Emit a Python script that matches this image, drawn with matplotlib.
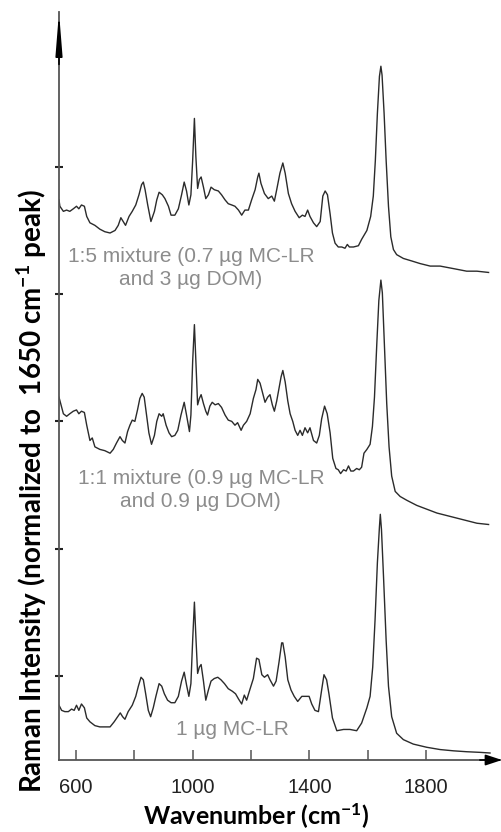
"""
Stacked Raman spectra of MC-LR and MC-LR/DOM mixtures,
each normalized to the 1650 cm-1 band and offset vertically.
"""

import numpy as np
import matplotlib
matplotlib.use('Agg')
import matplotlib.pyplot as plt

plt.rcParams['mathtext.fontset'] = 'custom'
plt.rcParams['mathtext.rm'] = 'Lato:bold'
plt.rcParams['mathtext.bf'] = 'Lato:bold'
plt.rcParams['mathtext.default'] = 'rm'

# 1:5 mixture (0.7 ug MC-LR and 3 ug DOM) -- top trace
wn_mix15 = [542, 545, 557, 568, 579, 591, 602, 610, 619, 629,
            637, 648, 665, 682, 699, 717, 734, 745, 754, 762,
            770, 782, 793, 805, 816, 825, 831, 837, 846, 857,
            869, 877, 885, 896, 905, 917, 926, 939, 951, 962,
            971, 979, 987, 994, 1000, 1006, 1011, 1017, 1023, 1029,
            1037, 1045, 1054, 1063, 1074, 1088, 1099, 1111, 1122, 1134,
            1145, 1157, 1168, 1179, 1191, 1202, 1214, 1223, 1227, 1234,
            1246, 1259, 1271, 1280, 1288, 1299, 1309, 1317, 1328, 1339,
            1351, 1365, 1376, 1385, 1394, 1402, 1414, 1425, 1437, 1446,
            1454, 1462, 1471, 1479, 1488, 1499, 1511, 1522, 1530, 1537,
            1551, 1568, 1579, 1597, 1610, 1619, 1626, 1633, 1640, 1645,
            1649, 1656, 1663, 1671, 1679, 1688, 1699, 1722, 1751, 1779,
            1814, 1848, 1894, 1939, 1974, 2014]
int_mix15 = [3.74, 3.69, 3.65, 3.66, 3.65, 3.67, 3.69, 3.67, 3.70, 3.69,
             3.61, 3.56, 3.54, 3.51, 3.49, 3.48, 3.50, 3.54, 3.60, 3.57,
             3.54, 3.61, 3.65, 3.70, 3.78, 3.86, 3.88, 3.82, 3.70, 3.57,
             3.65, 3.74, 3.80, 3.78, 3.75, 3.69, 3.62, 3.62, 3.67, 3.78,
             3.88, 3.81, 3.70, 3.78, 4.05, 4.38, 4.08, 3.83, 3.90, 3.92,
             3.84, 3.75, 3.78, 3.84, 3.82, 3.81, 3.78, 3.74, 3.71, 3.70,
             3.69, 3.66, 3.62, 3.66, 3.66, 3.74, 3.82, 3.92, 3.95, 3.87,
             3.79, 3.75, 3.77, 3.73, 3.82, 3.95, 4.03, 3.95, 3.79, 3.71,
             3.65, 3.60, 3.62, 3.61, 3.66, 3.61, 3.56, 3.53, 3.57, 3.77,
             3.81, 3.78, 3.63, 3.48, 3.40, 3.37, 3.37, 3.36, 3.39, 3.37,
             3.37, 3.38, 3.43, 3.50, 3.61, 3.77, 4.05, 4.42, 4.71, 4.79,
             4.72, 4.42, 4.05, 3.69, 3.45, 3.35, 3.31, 3.28, 3.26, 3.24,
             3.22, 3.22, 3.20, 3.18, 3.18, 3.17]

# 1:1 mixture (0.9 ug MC-LR and 0.9 ug DOM) -- middle trace
wn_mix11 = [542, 549, 557, 568, 579, 591, 602, 610, 619, 629,
            637, 648, 656, 665, 682, 699, 717, 728, 739, 751,
            759, 768, 777, 785, 793, 802, 811, 819, 827, 834,
            842, 850, 859, 869, 877, 885, 894, 899, 909, 919,
            928, 939, 949, 960, 971, 979, 989, 994, 1000, 1006,
            1011, 1017, 1023, 1029, 1037, 1045, 1051, 1059, 1067, 1077,
            1088, 1099, 1111, 1122, 1134, 1145, 1154, 1166, 1174, 1185,
            1197, 1208, 1217, 1223, 1231, 1239, 1248, 1257, 1265, 1273,
            1280, 1288, 1296, 1303, 1309, 1317, 1326, 1334, 1343, 1351,
            1360, 1368, 1376, 1385, 1394, 1402, 1414, 1425, 1434, 1442,
            1452, 1461, 1471, 1480, 1491, 1499, 1507, 1517, 1526, 1534,
            1542, 1551, 1562, 1571, 1579, 1587, 1597, 1608, 1616, 1623,
            1631, 1638, 1645, 1650, 1657, 1665, 1673, 1682, 1694, 1711,
            1734, 1768, 1802, 1837, 1871, 1905, 1939, 1974, 2014]
int_mix11 = [2.19, 2.13, 2.06, 2.04, 2.06, 2.08, 2.09, 2.06, 2.08, 2.07,
             1.97, 1.85, 1.87, 1.80, 1.78, 1.77, 1.75, 1.78, 1.83, 1.88,
             1.85, 1.83, 1.92, 1.97, 2.01, 2.00, 2.09, 2.18, 2.22, 2.19,
             2.05, 1.91, 1.82, 1.89, 2.00, 2.06, 2.04, 2.06, 1.97, 1.91,
             1.88, 1.89, 1.93, 2.05, 2.15, 2.05, 1.92, 2.05, 2.47, 2.76,
             2.47, 2.13, 2.18, 2.21, 2.14, 2.08, 2.05, 2.12, 2.15, 2.13,
             2.14, 2.11, 2.05, 2.01, 2.00, 1.97, 1.99, 1.93, 1.97, 2.00,
             2.06, 2.18, 2.25, 2.33, 2.30, 2.23, 2.15, 2.19, 2.21, 2.13,
             2.08, 2.16, 2.26, 2.35, 2.40, 2.31, 2.16, 2.06, 2.00, 1.93,
             1.89, 1.93, 1.89, 1.95, 1.91, 1.95, 1.85, 1.83, 1.89, 2.02,
             2.12, 2.06, 1.91, 1.71, 1.63, 1.62, 1.59, 1.62, 1.61, 1.65,
             1.61, 1.61, 1.63, 1.62, 1.64, 1.75, 1.78, 1.82, 1.96, 2.19,
             2.61, 2.95, 3.11, 3.01, 2.61, 2.14, 1.80, 1.57, 1.45, 1.41,
             1.38, 1.34, 1.31, 1.28, 1.26, 1.24, 1.22, 1.20, 1.19]

# 1 ug MC-LR alone -- bottom trace
wn_mclr = [542, 551, 562, 574, 585, 594, 602, 610, 619, 629,
           637, 648, 665, 682, 699, 717, 731, 743, 752, 760,
           768, 779, 793, 805, 814, 823, 831, 839, 848, 856,
           865, 874, 885, 894, 903, 914, 926, 939, 951, 962,
           971, 979, 987, 994, 1000, 1006, 1011, 1017, 1023, 1029,
           1037, 1045, 1054, 1063, 1074, 1086, 1097, 1109, 1122, 1136,
           1147, 1157, 1168, 1177, 1185, 1197, 1208, 1219, 1227, 1237,
           1246, 1257, 1265, 1277, 1286, 1296, 1305, 1309, 1317, 1326,
           1337, 1348, 1360, 1374, 1387, 1399, 1408, 1419, 1431, 1442,
           1450, 1459, 1467, 1479, 1494, 1517, 1539, 1562, 1579, 1597,
           1608, 1617, 1625, 1633, 1640, 1643, 1647, 1654, 1663, 1671,
           1682, 1699, 1722, 1756, 1802, 1848, 1894, 1939, 1985, 2019]
int_mclr = [-0.23, -0.27, -0.28, -0.28, -0.26, -0.27, -0.23, -0.27, -0.22, -0.25,
            -0.33, -0.36, -0.39, -0.40, -0.40, -0.40, -0.36, -0.32, -0.29, -0.32,
            -0.34, -0.28, -0.23, -0.16, -0.08, -0.01, -0.03, -0.14, -0.27, -0.32,
            -0.25, -0.16, -0.06, -0.08, -0.14, -0.19, -0.21, -0.21, -0.16, -0.04,
            0.03, -0.07, -0.16, -0.06, 0.28, 0.58, 0.31, 0.02, 0.07, 0.09,
            -0.04, -0.19, -0.11, -0.04, -0.02, -0.01, -0.03, -0.06, -0.10, -0.12,
            -0.14, -0.18, -0.22, -0.15, -0.19, -0.10, -0.02, 0.14, 0.13, 0.01,
            -0.01, 0.01, -0.03, -0.08, -0.04, 0.11, 0.26, 0.26, 0.15, -0.03,
            -0.11, -0.16, -0.20, -0.16, -0.16, -0.16, -0.22, -0.27, -0.28, -0.11,
            0.01, -0.03, -0.14, -0.33, -0.43, -0.42, -0.42, -0.43, -0.37, -0.25,
            -0.16, 0.07, 0.44, 0.89, 1.17, 1.27, 1.15, 0.78, 0.28, -0.08,
            -0.32, -0.45, -0.50, -0.535, -0.56, -0.578, -0.588, -0.595, -0.60, -0.605]

spectra = [(wn_mix15, int_mix15), (wn_mix11, int_mix11), (wn_mclr, int_mclr)]

labels = ['1:5 mixture (0.7 \u00b5g MC-LR\nand 3 \u00b5g DOM)',
          '1:1 mixture (0.9 \u00b5g MC-LR\nand 0.9 \u00b5g DOM)',
          '1 \u00b5g MC-LR']
label_wn = [994, 1028, 1138]
label_int = [3.205, 1.461, -0.424]

x_ticks = [600, 800, 1000, 1200, 1400, 1600, 1800]
x_ticklabels = ['600', '', '1000', '', '1400', '', '1800']
y_ticks = [0, 1, 2, 3, 4]

AXIS_COLOR = '#555555'
LINE_COLOR = '#2b2b2b'
NOTE_COLOR = '#8c8c8c'


def draw_axis_arrows(ax):
    """Put arrow heads on the ends of the left and bottom axes."""
    ax.annotate('', xy=(0, 1), xycoords='axes fraction',
                xytext=(0, 0.93), textcoords='axes fraction',
                arrowprops=dict(arrowstyle='-|>,head_length=2.5,head_width=0.2',
                                color='black', lw=1.2, shrinkA=0, shrinkB=0,
                                mutation_scale=10))
    ax.annotate('', xy=(1, 0), xycoords='axes fraction',
                xytext=(0.95, 0), textcoords='axes fraction',
                arrowprops=dict(arrowstyle='-|>,head_length=1.0,head_width=0.33',
                                color='black', lw=1.2, shrinkA=0, shrinkB=0,
                                mutation_scale=10))


fig = plt.figure(figsize=(5.02, 8.32), dpi=100)
ax = fig.add_axes([59 / 502, 72 / 832, 443 / 502, 748 / 832])

for wn, inten in spectra:
    ax.plot(np.array(wn), np.array(inten), color=LINE_COLOR, lw=1.0)

for text, x, y in zip(labels, label_wn, label_int):
    ax.text(x, y, text, ha='center', va='center', multialignment='center',
            color=NOTE_COLOR, fontsize=15, family='Liberation Sans',
            linespacing=1.3)

ax.set_xlim(542, 2060)
ax.set_ylim(-0.66, 5.216)

for side in ['top', 'right']:
    ax.spines[side].set_visible(False)
for side in ['left', 'bottom']:
    ax.spines[side].set_color(AXIS_COLOR)
    ax.spines[side].set_linewidth(1.3)

ax.set_xticks(x_ticks)
ax.set_xticklabels(x_ticklabels, family='Liberation Sans', fontsize=14.5,
                   color='#222222')
ax.tick_params(axis='x', direction='in', length=7, width=1.1,
               color=AXIS_COLOR, pad=13)
ax.set_yticks(y_ticks)
ax.set_yticklabels([])
ax.tick_params(axis='y', direction='inout', length=6, width=1.5,
               color='#222222')

draw_axis_arrows(ax)

ax.set_xlabel('Wavenumber (cm$^{-1}$)', family='Lato', fontweight='bold',
              fontsize=18, color='black', va='center')
ax.xaxis.set_label_coords(0.445, -0.0745)
ax.set_ylabel('Raman Intensity (normalized to  1650 cm$^{-1}$ peak)',
              family='Lato', fontweight='bold', fontsize=20, color='black')
ax.yaxis.set_label_coords(-0.022, 0.36)

fig.savefig('out.png', dpi=100)
